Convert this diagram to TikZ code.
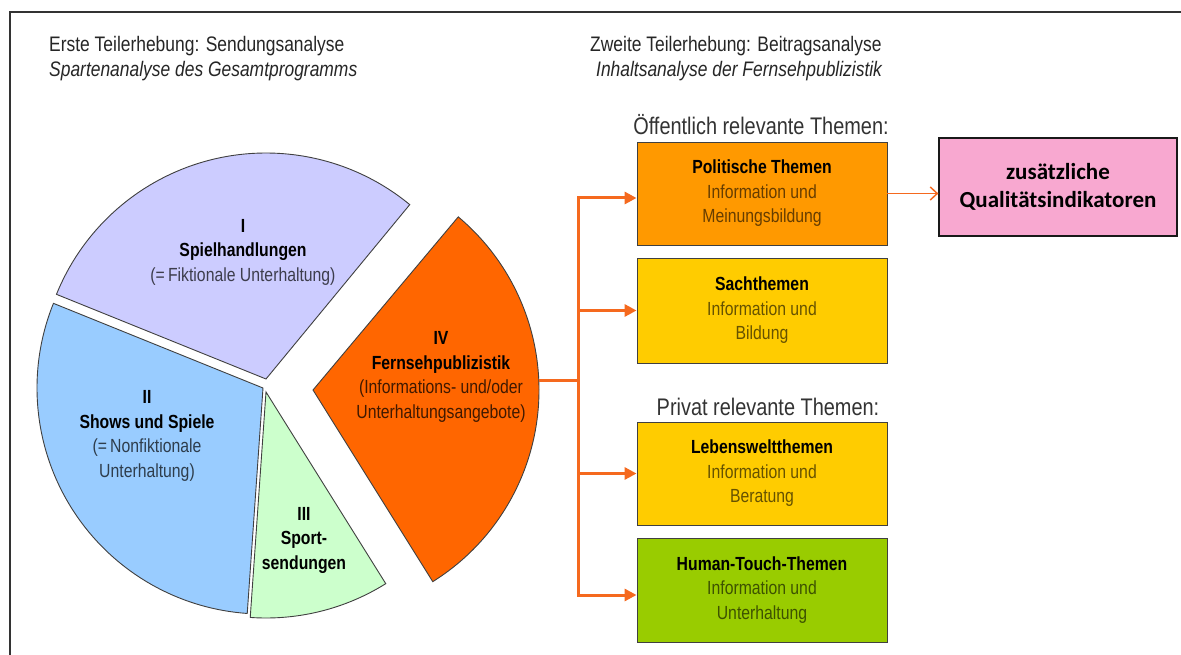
\documentclass[tikz,border=0pt]{standalone}
\usepackage{fontspec}
\setmainfont{Liberation Sans}[FakeStretch=0.83]
\newfontfamily\calib{Carlito}
\usetikzlibrary{arrows.meta}
\definecolor{lav}{HTML}{CCCCFF}
\definecolor{sky}{HTML}{99CCFF}
\definecolor{mint}{HTML}{CCFFCC}
\definecolor{orn}{HTML}{FF6600}
\definecolor{orbox}{HTML}{FF9900}
\definecolor{yel}{HTML}{FFCC00}
\definecolor{grn}{HTML}{99CC00}
\definecolor{pinkbox}{HTML}{F8A8D0}
\definecolor{linkcol}{HTML}{F5691E}
\begin{document}
\begin{tikzpicture}[x=1pt,y=1pt,
  wedge/.style={draw=black!75, line width=0.9pt},
  lbl/.style={align=center, inner sep=0, font=\fontsize{19}{24.5}\selectfont},
  ttl/.style={anchor=west, inner sep=0, text=black!85, font=\fontsize{21}{24}\selectfont},
  hdr/.style={inner sep=0, text=black!80, font=\fontsize{24}{28}\selectfont},
  topic/.style={draw=black!75, line width=0.9pt, minimum width=250, align=center, inner sep=0, font=\fontsize{19}{24.5}\selectfont},
  trunk/.style={draw=linkcol, line width=3pt},
  branch/.style={draw=linkcol, line width=3pt, -{Triangle[length=12pt,width=12pt]}},
  thin/.style={draw=linkcol, line width=1.5pt, -{Straight Barb[length=7pt,width=13pt]}}
]
\useasboundingbox (0,0) rectangle (1181,-655);
\fill[white] (0,0) rectangle (1181,-655);
% frame
\draw[line width=2pt, black!80] (9.5,-655) -- (9.5,-12.5) -- (1181,-12.5);

% titles
\node[ttl] (t1) at (49,-46) {Erste Teilerhebung: Sendungsanalyse};
\node[ttl] (t2) at (49,-71) {\itshape Spartenanalyse des Gesamtprogramms};
\node[ttl] (t3) at (590,-46) {Zweite Teilerhebung: Beitragsanalyse};
\node[ttl] (t4) at (596,-71) {\itshape Inhaltsanalyse der Fernsehpublizistik};

% pie
\coordinate (cI) at (266,-379);
\coordinate (cII) at (263,-388);
\coordinate (cIII) at (266,-392);
\coordinate (cIV) at (313,-390);
\path[wedge, fill=lav] (cI) -- ++(50.5:226) arc[start angle=50.5, end angle=158, radius=226] -- cycle;
\path[wedge, fill=sky] (cII) -- ++(158:226) arc[start angle=158, end angle=266, radius=226] -- cycle;
\path[wedge, fill=mint] (cIII) -- ++(266:226) arc[start angle=266, end angle=302, radius=226] -- cycle;
\path[wedge, fill=orn] (cIV) -- ++(-58:226) arc[start angle=-58, end angle=50, radius=226] -- cycle;

\node[lbl] (lI) at (243,-252) {\bfseries I\\\bfseries Spielhandlungen\\\textcolor{lav!30!black}{(=\,Fiktionale Unterhaltung)}};
\node[lbl] (lII) at (147,-436) {\bfseries II\\\bfseries Shows und Spiele\\\textcolor{sky!30!black}{(=\,Nonfiktionale}\\\textcolor{sky!30!black}{Unterhaltung)}};
\node[lbl] (lIII) at (304,-540) {\bfseries III\\\bfseries Sport-\\\bfseries sendungen};
\node[lbl] (lIV) at (441,-377) {\bfseries IV\\\bfseries Fernsehpublizistik\\\textcolor{orn!25!black}{(Informations- und/oder}\\\textcolor{orn!25!black}{Unterhaltungsangebote)}};

% headers
\node[hdr] (oh) at (761,-125) {Öffentlich relevante Themen:};
\node[hdr] (ph) at (768,-407) {Privat relevante Themen:};

% topic boxes
\node[topic, fill=orbox, minimum height=103] (P) at (762,-193.5) {\bfseries Politische Themen\\\textcolor{orbox!40!black}{Information und}\\\textcolor{orbox!40!black}{Meinungsbildung}};
\node[topic, fill=yel, minimum height=105] (S) at (762,-310.5) {\bfseries Sachthemen\\\textcolor{yel!40!black}{Information und}\\\textcolor{yel!40!black}{Bildung}};
\node[topic, fill=yel, minimum height=103] (L) at (762,-473.5) {\bfseries Lebensweltthemen\\\textcolor{yel!40!black}{Information und}\\\textcolor{yel!40!black}{Beratung}};
\node[topic, fill=grn, minimum height=104] (H) at (762,-590) {\bfseries Human-Touch-Themen\\\textcolor{grn!40!black}{Information und}\\\textcolor{grn!40!black}{Unterhaltung}};
\node[draw=black!90, line width=1.3pt, fill=pinkbox, minimum width=238, minimum height=98, align=center, inner sep=0,
      font=\calib\bfseries\fontsize{23}{28}\selectfont] (K) at (1058,-187) {zusätzliche\\Qualitätsindikatoren};

% connectors
\coordinate (IVr) at (538.5,-380);
\coordinate (J) at (578,-380);
\coordinate (Pa) at ([yshift=-4.5pt]P.west);
\coordinate (Sa) at (S.west);
\coordinate (La) at (L.west);
\coordinate (Ha) at ([yshift=-5pt]H.west);
\draw[trunk] (IVr) -- (J);
\draw[trunk, line cap=rect] (J |- Pa) -- (J |- Ha);
\draw[branch] (J |- Pa) -- (Pa);
\draw[branch] (J |- Sa) -- (Sa);
\draw[branch] (J |- La) -- (La);
\draw[branch] (J |- Ha) -- (Ha);
\draw[thin] (P.east) -- (P.east -| K.west);
\end{tikzpicture}
\end{document}
